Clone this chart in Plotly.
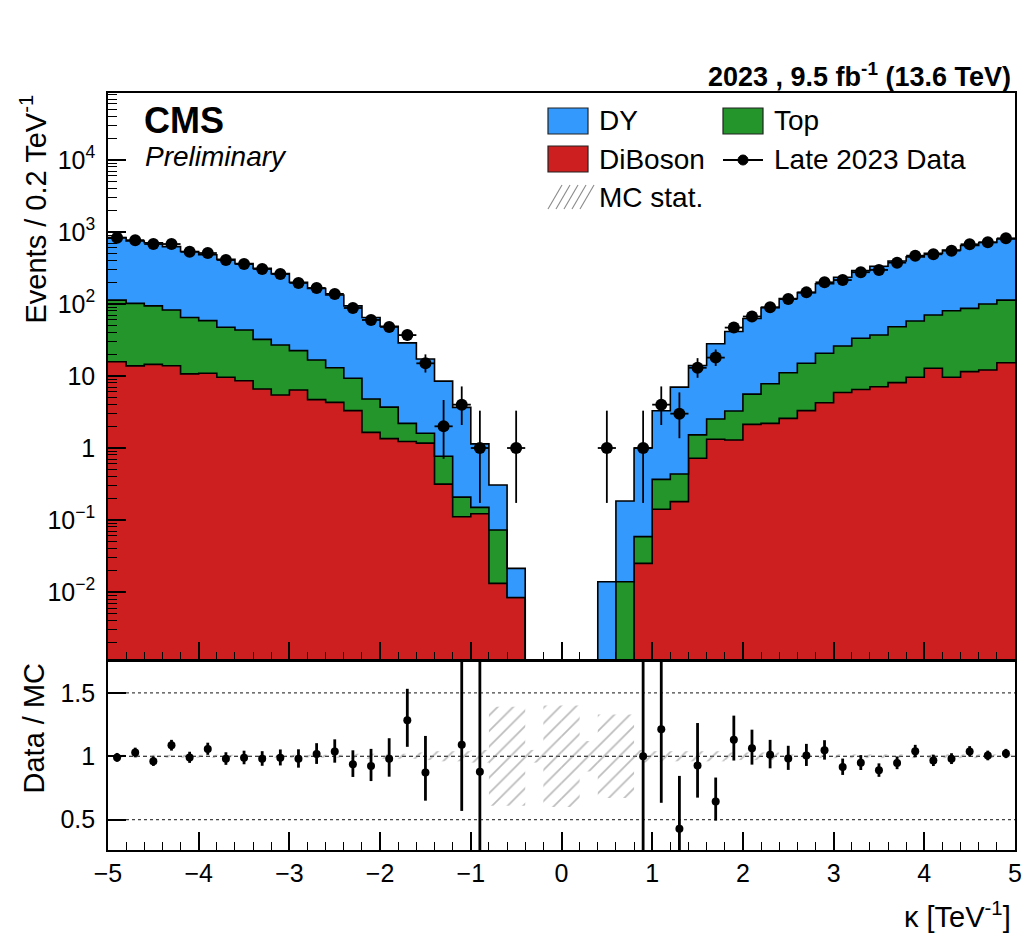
import math
import numpy as np
import plotly.graph_objects as go

# ---- binning: kappa from -5 to 5 TeV^-1 in 0.2 wide bins ----
bin_edges = np.round(np.linspace(-5.0, 5.0, 51), 3)
bin_centers = 0.5 * (bin_edges[:-1] + bin_edges[1:])

# ---- expected yields per bin ----
diboson = [15.8, 13.8, 14.5, 13.9, 10.7, 10.9, 9.6, 8.6, 6.6, 5.45,
           6.4, 4.7, 4.3, 3.3, 1.65, 1.35, 1.23, 1.17, 0.315, 0.111,
           0.122, 0.0132, 0.0084, 0, 0, 0, 0, 0, 0, 0.025,
           0.141, 0.18, 0.72, 1.32, 1.29, 2.13, 2.2, 2.58, 3.3, 4.26,
           5.9, 6.5, 7.1, 8.1, 9.6, 12.8, 9.6, 11.5, 12.1, 15.3]

top = [97.2, 88.2, 79.5, 68.6, 54.3, 47.8, 37.9, 34.9, 25.7, 21.55,
       16.1, 12.0, 8.7, 6.0, 3.15, 2.35, 0.97, 0.43, 0.455, 0.097,
       0.028, 0.0594, 0, 0, 0, 0, 0, 0, 0.0139, 0.0337,
       0.226, 0.255, 0.80, 1.21, 1.98, 3.47, 5.6, 8.52, 11.7, 16.4,
       20.2, 26.9, 30.0, 40.3, 48.4, 57.5, 71.1, 75.5, 87.9, 97.7]

dy = [725, 646, 614, 543.5, 470, 423.3, 368.5, 319.5, 279.7, 237,
      177.5, 147.3, 120, 84.7, 60.2, 45.3, 26.6, 15.6, 7.73, 3.46,
      0.99, 0.2334, 0.0129, 0, 0, 0, 0, 0.0139, 0.170, 0.941,
      2.93, 6.57, 12.5, 25.5, 38.3, 57.4, 81.2, 107.9, 129, 170.3,
      208.9, 257.6, 296.9, 347.6, 393, 436.7, 480.3, 563, 616, 687]

# relative MC statistical uncertainty per bin
mc_stat_rel = [0.012] * 13 + [0.02] * 4 + [0.03, 0.04, 0.04, 0.05,
               0.39, 0.39, 0.05, 0.40, 0.40, 0.12, 0.33, 0.33, 0.05,
               0.04, 0.04, 0.04, 0.04, 0.03, 0.03, 0.03] + [0.015] * 13

# ---- observed events per bin ----
data = [830, 770, 680, 680, 530, 510, 408, 359, 306, 261,
        196, 167, 138, 88, 60, 48, 37, 15, 2, 4,
        1, 0, 1, 0, 0, 0, 0, 1, 0, 1,
        4, 3, 13, 18, 47, 67, 90, 117, 145, 200,
        215, 276, 297, 375, 469, 490, 550, 675, 720, 817]

log_tick_vals = [1e-2, 1e-1, 1, 10, 100, 1e3, 1e4]
log_tick_text = ["10<sup>−2</sup>", "10<sup>−1</sup>", "1", "10",
                 "10<sup>2</sup>", "10<sup>3</sup>", "10<sup>4</sup>"]
x_tick_vals = [-5, -4, -3, -2, -1, 0, 1, 2, 3, 4, 5]
x_tick_text = ["−5", "−4", "−3", "−2", "−1", "0", "1", "2", "3", "4", "5"]

# ---- styling ----
C_DY = "#3399fd"
C_TOP = "#23952a"
C_VV = "#cd1f1f"
FONT = "Liberation Sans, Arial, sans-serif"
Y_MIN_LOG, Y_MAX_LOG = -2.944, 4.93
R_MIN, R_MAX = 0.26, 1.752
FLOOR = 1e-6

# ---- Garwood (central 68%) Poisson intervals ----
ALPHA = (1.0 - 0.682689492) / 2.0


def pois_cdf(n, mu):
    if mu <= 0:
        return 1.0
    lm = math.log(mu)
    return sum(math.exp(-mu + k * lm - math.lgamma(k + 1)) for k in range(n + 1))


def garwood(n):
    # upper edge: P(X <= n | mu) = alpha
    lo, hi = float(n), n + 10 * math.sqrt(n + 1) + 10
    for _ in range(60):
        mid = 0.5 * (lo + hi)
        if pois_cdf(n, mid) > ALPHA:
            lo = mid
        else:
            hi = mid
    up = 0.5 * (lo + hi)
    if n == 0:
        return 0.0, up
    # lower edge: P(X >= n | mu) = alpha
    lo, hi = 0.0, float(n)
    for _ in range(60):
        mid = 0.5 * (lo + hi)
        if 1.0 - pois_cdf(n - 1, mid) < ALPHA:
            lo = mid
        else:
            hi = mid
    return 0.5 * (lo + hi), up


vv = np.array(diboson, float)
tt = np.array(top, float)
dd = np.array(dy, float)
obs = np.array(data, float)

cum_vv = vv
cum_top = vv + tt
cum_all = vv + tt + dd


def step(vals):
    v = np.where(vals > 0, vals, FLOOR)
    return list(bin_edges), list(v) + [v[-1]]


fig = go.Figure()

# baseline for the stacked fills
bx, by = step(np.zeros(50))
fig.add_trace(go.Scatter(x=bx, y=by, mode="lines", line=dict(width=0, shape="hv"),
                         showlegend=False, hoverinfo="skip", xaxis="x", yaxis="y"))
for cum, col in [(cum_vv, C_VV), (cum_top, C_TOP), (cum_all, C_DY)]:
    sx, sy = step(cum)
    fig.add_trace(go.Scatter(x=sx, y=sy, mode="lines", fill="tonexty", fillcolor=col,
                             line=dict(color="black", width=1.6, shape="hv"),
                             showlegend=False, hoverinfo="skip", xaxis="x", yaxis="y"))

# observed data with Poisson error bars
intervals = [garwood(int(n)) for n in data]
mask = obs > 0
d_y = [float(n) if m else None for n, m in zip(obs, mask)]
e_up = [iv[1] - n if m else 0 for iv, n, m in zip(intervals, obs, mask)]
e_dn = [n - iv[0] if m else 0 for iv, n, m in zip(intervals, obs, mask)]
fig.add_trace(go.Scatter(
    x=list(bin_centers), y=d_y, mode="markers",
    marker=dict(color="black", size=12, symbol="circle"),
    error_y=dict(type="data", symmetric=False, array=e_up, arrayminus=e_dn,
                 color="black", thickness=1.8, width=0),
    error_x=dict(type="constant", value=0.1, color="black", thickness=1.8, width=0),
    showlegend=False, xaxis="x", yaxis="y"))

# ---- ratio panel ----
fig.add_trace(go.Bar(
    x=list(bin_centers), y=[2 * s for s in mc_stat_rel],
    base=[1 - s for s in mc_stat_rel], width=0.2,
    marker=dict(color="rgba(0,0,0,0)", line=dict(width=0),
                pattern=dict(shape="/", fgcolor="#7a7a7a", bgcolor="rgba(0,0,0,0)",
                             size=11, solidity=0.16)),
    showlegend=False, hoverinfo="skip", xaxis="x2", yaxis="y2"))

r_y, r_up, r_dn = [], [], []
for n, mc, iv in zip(obs, cum_all, intervals):
    if n > 0 and mc > 0 and R_MIN <= n / mc <= R_MAX:
        r_y.append(n / mc)
        r_up.append((iv[1] - n) / mc)
        r_dn.append((n - iv[0]) / mc)
    else:
        r_y.append(None)
        r_up.append(0)
        r_dn.append(0)

fig.add_trace(go.Scatter(
    x=list(bin_centers), y=r_y, mode="markers",
    marker=dict(color="black", size=8),
    error_y=dict(type="data", symmetric=False, array=r_up, arrayminus=r_dn,
                 color="black", thickness=2.8, width=0),
    showlegend=False, xaxis="x2", yaxis="y2"))

# ---- reference lines in the ratio panel ----
shapes = []
for lvl, dash, col in [(1.5, "dot", "#444444"), (0.5, "dot", "#444444"), (1.0, "4px,3px", "black")]:
    shapes.append(dict(type="line", xref="x2 domain", x0=0, x1=1, yref="y2", y0=lvl, y1=lvl,
                       line=dict(color=col, width=1.2, dash=dash), layer="below"))

# ---- pixel helpers for decorations ----
PL, PR, PT, PB = 108, 1015, 93, 850


def px(p):
    return (p - PL) / (PR - PL)


def py(p):
    return (PB - p) / (PB - PT)


# legend boxes
for (x0, y0, col) in [(548, 108, C_DY), (723, 108, C_TOP), (548, 146, C_VV)]:
    shapes.append(dict(type="rect", xref="paper", yref="paper",
                       x0=px(x0), x1=px(x0 + 40), y0=py(y0 + 26), y1=py(y0),
                       fillcolor=col, line=dict(color="#222222", width=1.2)))
# data legend symbol
shapes.append(dict(type="line", xref="paper", yref="paper", x0=px(723), x1=px(763),
                   y0=py(160), y1=py(160), line=dict(color="black", width=1.8)))
shapes.append(dict(type="circle", xref="paper", yref="paper", x0=px(738), x1=px(748),
                   y0=py(165), y1=py(155), fillcolor="black", line=dict(color="black", width=1)))
# hatch swatch
for i in range(5):
    xa = 548 + i * 8
    shapes.append(dict(type="line", xref="paper", yref="paper",
                       x0=px(xa), x1=px(xa + 14), y0=py(209), y1=py(185),
                       line=dict(color="#8a8a8a", width=1.1)))

annotations = [
    dict(text="<b>CMS</b>", x=px(142), y=py(120), xref="paper", yref="paper",
         xanchor="left", yanchor="middle", showarrow=False, font=dict(size=36, family=FONT, color="black")),
    dict(text="<i>Preliminary</i>", x=px(143), y=py(156), xref="paper", yref="paper",
         xanchor="left", yanchor="middle", showarrow=False, font=dict(size=28, family=FONT, color="black")),
    dict(text="<b>2023 , 9.5 fb<sup>-1</sup> (13.6 TeV)</b>", x=px(1013), y=py(75),
         xref="paper", yref="paper", xanchor="right", yanchor="middle", showarrow=False,
         font=dict(size=27, family=FONT, color="black")),
    dict(text="Events / 0.2 TeV<sup>-1</sup>", textangle=-90, x=px(33), y=1.0,
         xref="paper", yref="paper", xanchor="center", yanchor="top", showarrow=False,
         font=dict(size=29, family=FONT, color="black")),
    dict(text="Data / MC", textangle=-90, x=px(33), y=py(661),
         xref="paper", yref="paper", xanchor="center", yanchor="top", showarrow=False,
         font=dict(size=29, family=FONT, color="black")),
    dict(text="κ [TeV<sup>-1</sup>]", x=px(1013), y=py(915), xref="paper", yref="paper",
         xanchor="right", yanchor="middle", showarrow=False, font=dict(size=29, family=FONT, color="black")),
]
for label, xl, yl in [("DY", 597, 121), ("Top", 772, 121), ("DiBoson", 597, 159),
                      ("Late 2023 Data", 772, 159), ("MC stat.", 597, 197)]:
    annotations.append(dict(text=label, x=px(xl), y=py(yl), xref="paper", yref="paper",
                            xanchor="left", yanchor="middle", showarrow=False,
                            font=dict(size=28, family=FONT, color="black")))

minor_log = [k * 10.0 ** d for d in range(-3, 5) for k in range(2, 10)]

axis_common = dict(showline=True, linecolor="black", linewidth=1.6, mirror=True,
                   ticks="inside", tickcolor="black", tickwidth=1.5, showgrid=False,
                   zeroline=False, automargin=False)

fig.update_layout(
    width=1023, height=933,
    margin=dict(l=PL, r=1023 - PR, t=PT, b=933 - PB, pad=0),
    paper_bgcolor="white", plot_bgcolor="white",
    barmode="overlay", showlegend=False,
    font=dict(family=FONT, color="black", size=25),
    xaxis=dict(domain=[0, 1], anchor="y", range=[-5, 5], tickvals=x_tick_vals,
               showticklabels=False, ticklen=18,
               minor=dict(ticks="inside", dtick=0.2, tick0=0, ticklen=8, tickcolor="black",
                          tickwidth=1.3, showgrid=False),
               **axis_common),
    yaxis=dict(domain=[(PB - 660) / (PB - PT), 1], anchor="x", type="log",
               range=[Y_MIN_LOG, Y_MAX_LOG], tickvals=log_tick_vals, ticktext=log_tick_text,
               ticklen=18, tickfont=dict(size=25), ticklabelstandoff=6,
               minor=dict(ticks="inside", tickmode="array", tickvals=minor_log, ticklen=9,
                          tickcolor="black", tickwidth=1.3, showgrid=False),
               **axis_common),
    xaxis2=dict(domain=[0, 1], anchor="y2", matches="x", range=[-5, 5],
                tickvals=x_tick_vals, ticktext=x_tick_text, ticklen=18,
                tickfont=dict(size=25), ticklabelstandoff=0,
                minor=dict(ticks="inside", dtick=0.2, tick0=0, ticklen=8, tickcolor="black",
                           tickwidth=1.3, showgrid=False),
                **axis_common),
    yaxis2=dict(domain=[0, (PB - 661) / (PB - PT)], anchor="x2", range=[R_MIN, R_MAX],
                tickvals=[0.5, 1, 1.5], ticktext=["0.5", "1", "1.5"], ticklen=18,
                tickfont=dict(size=25), ticklabelstandoff=6,
                **axis_common),
    shapes=shapes,
    annotations=annotations,
)

fig.write_html("out.html")
